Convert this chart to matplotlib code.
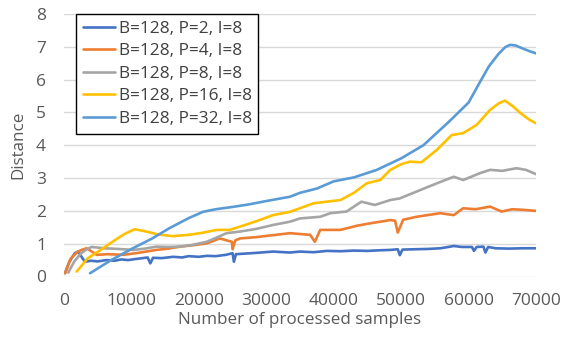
import numpy as np
import matplotlib.pyplot as plt

# series colours (Office palette)
BLUE = "#4472C4"
ORANGE = "#ED7D31"
GREY = "#A5A5A5"
YELLOW = "#FFC000"
LIGHTBLUE = "#5B9BD5"
TEXT = "#595959"

labels = [
    "B=128, P=2, I=8",
    "B=128, P=4, I=8",
    "B=128, P=8, I=8",
    "B=128, P=16, I=8",
    "B=128, P=32, I=8",
]

# P=2
x_p2 = [150, 800, 1600, 2100, 2600, 3100, 4000, 5000, 6300, 7500, 8500, 9500, 10500,
        11300, 12400, 12800, 13200, 14500, 16200, 17500, 18500, 20000, 21200, 22500,
        24000, 25000, 25200, 25500, 27000, 28500, 31000, 33500, 35000, 37000, 39000,
        41000, 43000, 45000, 47000, 48400, 49500, 49800, 50200, 52000, 54000, 55800,
        57000, 57800, 59000, 60500, 60800, 61200, 62200, 62500, 62900, 64000, 66000,
        68000, 70000]
y_p2 = [0.1, 0.45, 0.71, 0.76, 0.6, 0.45, 0.48, 0.46, 0.5, 0.48, 0.52, 0.5, 0.53,
        0.55, 0.58, 0.4, 0.57, 0.56, 0.6, 0.58, 0.62, 0.6, 0.63, 0.62,
        0.66, 0.71, 0.45, 0.68, 0.7, 0.72, 0.76, 0.73, 0.76, 0.74, 0.78,
        0.77, 0.79, 0.78, 0.8, 0.81, 0.83, 0.65, 0.82, 0.83, 0.84, 0.86,
        0.9, 0.93, 0.9, 0.9, 0.78, 0.9, 0.91, 0.73, 0.9, 0.86, 0.85,
        0.86, 0.86]

# P=4
x_p4 = [150, 1000, 2000, 2600, 3350, 4200, 4850, 6500, 8800, 11000, 13700, 15500,
        17200, 19000, 21200, 23100, 24500, 24900, 25000, 25400, 26100, 28500, 31000,
        33500, 36500, 37200, 38000, 41000, 43500, 45400, 48400, 49100, 49500, 50300,
        52300, 55800, 57800, 59200, 61000, 63200, 64900, 66500, 68200, 70000]
y_p4 = [0.1, 0.55, 0.75, 0.81, 0.86, 0.75, 0.66, 0.68, 0.66, 0.72, 0.81, 0.85,
        0.91, 0.95, 1.01, 1.16, 1.08, 1.06, 0.83, 1.1, 1.16, 1.2, 1.26,
        1.32, 1.27, 1.06, 1.42, 1.42, 1.55, 1.62, 1.72, 1.7, 1.34, 1.73,
        1.82, 1.93, 1.87, 2.08, 2.05, 2.13, 1.98, 2.05, 2.03, 2.0]

# P=8
x_p8 = [640, 1500, 2500, 3300, 4100, 6000, 8000, 10300, 12000, 13700, 15500, 17200,
        19000, 21200, 22800, 24100, 26100, 28500, 31000, 33500, 35000, 38000, 39500,
        41900, 44100, 46100, 48400, 49800, 52300, 55300, 57800, 59200, 61700, 63200,
        65000, 67100, 68500, 70000]
y_p8 = [0.12, 0.45, 0.7, 0.82, 0.9, 0.86, 0.84, 0.81, 0.85, 0.91, 0.9, 0.91,
        0.96, 1.06, 1.2, 1.32, 1.37, 1.45, 1.57, 1.67, 1.77, 1.82, 1.93,
        1.98, 2.28, 2.18, 2.33, 2.38, 2.59, 2.84, 3.04, 2.94, 3.15, 3.25,
        3.22, 3.3, 3.25, 3.12]

# P=16
x_p16 = [1880, 3500, 5500, 7500, 9000, 10500, 12000, 14000, 16200, 18500, 20500,
         22600, 24600, 27000, 29000, 31000, 33500, 35000, 37000, 41000, 43000,
         44900, 46900, 48400, 50000, 51300, 53000, 55300, 57500, 59200, 61200,
         63200, 64500, 65400, 66500, 67700, 69000, 70000]
y_p16 = [0.15, 0.55, 0.82, 1.1, 1.3, 1.44, 1.38, 1.28, 1.23, 1.27, 1.33,
         1.42, 1.42, 1.58, 1.72, 1.87, 1.97, 2.08, 2.23, 2.33, 2.55,
         2.84, 2.94, 3.25, 3.42, 3.5, 3.48, 3.86, 4.31, 4.37, 4.62,
         5.08, 5.28, 5.36, 5.2, 4.98, 4.78, 4.67]

# P=32
x_p32 = [3860, 7000, 10300, 13000, 15700, 18500, 20600, 22500, 25000, 27500, 30000,
         33500, 35000, 37500, 40000, 43000, 46400, 50000, 53300, 57000, 60000,
         61700, 63000, 64500, 65500, 66200, 67000, 68000, 69000, 70000]
y_p32 = [0.1, 0.5, 0.87, 1.15, 1.48, 1.78, 1.97, 2.05, 2.12, 2.2, 2.3,
         2.43, 2.55, 2.68, 2.9, 3.02, 3.25, 3.6, 4.0, 4.7, 5.3,
         5.93, 6.4, 6.8, 7.0, 7.06, 7.04, 6.95, 6.87, 6.8]

series = [
    (x_p2, y_p2, BLUE),
    (x_p4, y_p4, ORANGE),
    (x_p8, y_p8, GREY),
    (x_p16, y_p16, YELLOW),
    (x_p32, y_p32, LIGHTBLUE),
]


def fit_size(fig, txt, target_px, horizontal=True):
    # scale font size until rendered text has the wanted pixel extent
    for _ in range(3):
        fig.canvas.draw()
        bb = txt.get_window_extent()
        size = bb.width if horizontal else bb.height
        txt.set_fontsize(txt.get_fontsize() * target_px / size)
    return txt.get_fontsize()


def main():
    plt.rcParams["font.family"] = ["Open Sans", "DejaVu Sans"]

    fig = plt.figure(figsize=(5.64, 3.41), dpi=100)
    ax = fig.add_axes([64 / 564, 1 - 276.5 / 341, (536 - 64) / 564, (276.5 - 14) / 341])

    for (xs, ys, color), label in zip(series, labels):
        ax.plot(xs, ys, color=color, lw=1.9, label=label,
                solid_joinstyle="round", solid_capstyle="round", zorder=3)

    ax.set_xlim(0, 70000)
    ax.set_ylim(0, 8)
    ax.set_xticks(np.arange(0, 70001, 10000))
    ax.set_yticks(np.arange(0, 9, 1))
    ax.grid(axis="y", color="#D9D9D9", lw=1.0, zorder=0)
    for spine in ax.spines.values():
        spine.set_visible(False)

    # font sizes matched to the reference text widths
    probe = fig.text(0, 0, "20000")
    tick_fs = fit_size(fig, probe, 50)
    probe.set_text("Number of processed samples")
    label_fs = fit_size(fig, probe, 244)
    probe.set_text("B=128, P=32, I=8")
    leg_fs = fit_size(fig, probe, 134)
    probe.remove()

    ax.tick_params(length=0, colors=TEXT, labelsize=tick_fs)
    ax.tick_params(axis="x", pad=12)
    ax.tick_params(axis="y", pad=13)

    ax.set_xlabel("Number of processed samples", color=TEXT, fontsize=label_fs, va="center")
    ax.set_ylabel("Distance", color=TEXT, fontsize=label_fs, va="center")
    ax.xaxis.set_label_coords(0.5, (276.5 - 320) / 262.5)
    ax.yaxis.set_label_coords((18 - 64) / 472, 0.5)

    em = leg_fs * 100 / 72
    leg = ax.legend(loc="upper left", bbox_to_anchor=(12 / 472, 1.0), fancybox=False,
                    framealpha=1, edgecolor="black", fontsize=leg_fs,
                    handlelength=32 / em, handletextpad=4 / em, labelspacing=0.38,
                    borderpad=0.38, borderaxespad=0.0)
    leg.get_frame().set_linewidth(1.0)
    for txt in leg.get_texts():
        txt.set_color("#404040")

    fig.savefig("out.png", dpi=100)


if __name__ == "__main__":
    main()
